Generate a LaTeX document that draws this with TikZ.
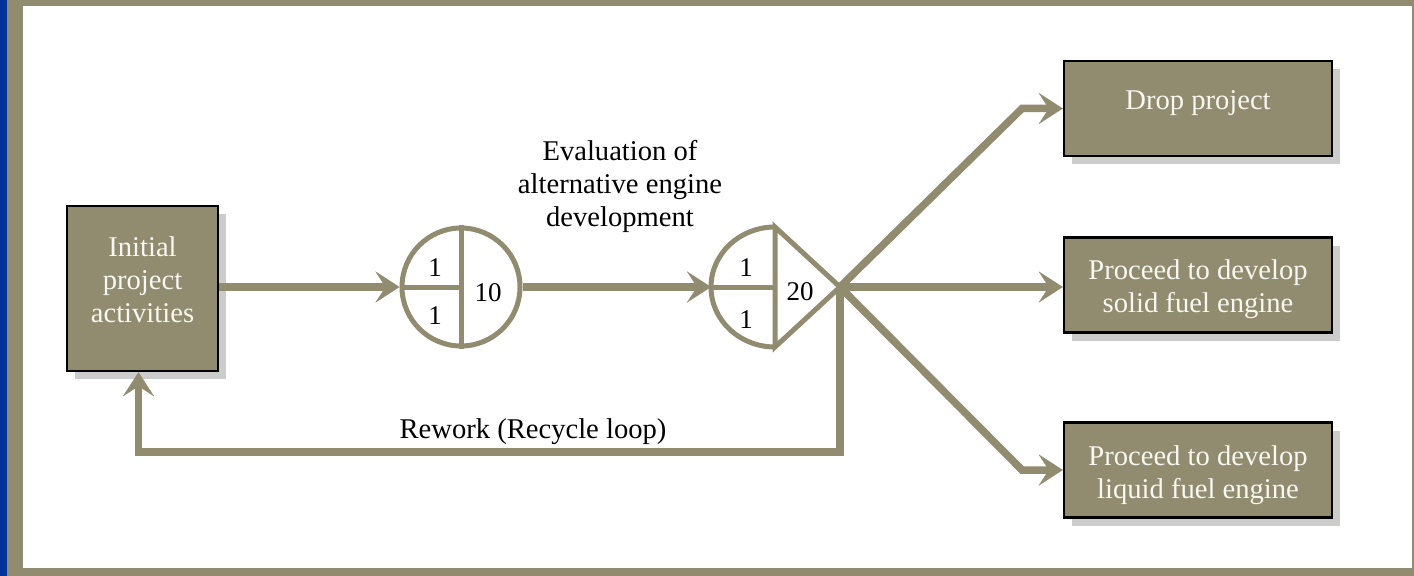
\documentclass[tikz,border=0pt]{standalone}
\usepackage{fontspec}
\setmainfont{Liberation Serif}
\usetikzlibrary{arrows.meta,shadows}
\definecolor{olivegrey}{RGB}{145,139,112}
\definecolor{frameblue}{RGB}{0,51,153}
\definecolor{shadowgrey}{RGB}{204,204,204}
\definecolor{boxtext}{RGB}{248,248,240}
\tikzset{
  txt/.style={font=\fontsize{28.6bp}{33bp}\selectfont, align=center, inner sep=0pt},
  stagebox/.style={draw=black, line width=2.5bp, fill=olivegrey, text=boxtext,
    font=\fontsize{28.6bp}{33bp}\selectfont, align=center, inner sep=0pt,
    general shadow={fill=shadowgrey, shadow xshift=8bp, shadow yshift=-8bp}},
  flow/.style={draw=olivegrey, line width=7.5bp,
    -{Stealth[length=24bp,width=31bp,inset=10bp,line width=0.1bp]}},
  gate/.style={draw=olivegrey, line width=5bp},
  num/.style={font=\fontsize{27bp}{30bp}\selectfont, inner sep=0pt}
}
\begin{document}
\begin{tikzpicture}[x=1bp,y=-1bp]
  % frame
  \useasboundingbox (0,0) rectangle (1414,576);
  \fill[olivegrey] (0,0) rectangle (1414,576);
  \fill[frameblue] (0,0) rectangle (7,576);
  \fill[white] (23,6) rectangle (1412,568);

  % boxes
  \node[stagebox, minimum width=151bp, minimum height=165bp] (init) at (142.5,288.5) {};
  \node[txt, text=boxtext] (inittxt) at (142.5,280) {Initial\\project\\activities};
  \node[stagebox, minimum width=268bp, minimum height=95bp] (drop) at (1198,108.5) {};
  \node[txt, text=boxtext] (droptxt) at (1198,103) {Drop project};
  \node[stagebox, minimum width=268bp, minimum height=95bp] (solid) at (1198,285) {};
  \node[txt, text=boxtext] (solidtxt) at (1198,289) {Proceed to develop\\solid fuel engine};
  \node[stagebox, minimum width=268bp, minimum height=95bp] (liquid) at (1198,470) {};
  \node[txt, text=boxtext] (liquidtxt) at (1198,475) {Proceed to develop\\liquid fuel engine};

  % first activity circle
  \node[circle, gate, minimum size=118bp, inner sep=0pt] (c1) at (461,287) {};
  \draw[gate] (c1.north) -- (c1.south);
  \draw[gate] (c1.west) -- (c1.center);
  \node[num] (c1a) at (435,268) {1};
  \node[num] (c1b) at (435,316) {1};
  \node[num] (c1c) at (488,293) {10};

  % decision node: half ellipse + triangle
  \coordinate (d) at (775,287);
  \coordinate (dtop) at (775,227);
  \coordinate (dbot) at (775,347);
  \coordinate (dw) at (711,287);
  \coordinate (apex) at (840,287);
  \draw[gate] (dtop) arc[start angle=90, end angle=270, x radius=64bp, y radius=60bp];
  \draw[gate, line join=miter] (dtop) -- (apex) -- (dbot) -- cycle;
  \draw[gate] (dw) -- (d);
  \node[num] (d1a) at (746,268) {1};
  \node[num] (d1b) at (746,320) {1};
  \node[num] (d1c) at (800,292) {20};

  % labels
  \node[txt] (evallbl) at (620,186) {Evaluation of\\alternative engine\\development};
  \node[txt] (reworklbl) at (533,432) {Rework (Recycle loop)};

  % connectors
  \draw[flow] (init.east |- c1.west) -- (c1.west);
  \draw[flow] (c1.east) -- (dw);
  \coordinate (bup) at (1022,108.5);
  \coordinate (bdn) at (1022,470);
  \coordinate (bloop) at (840,452);
  \draw[flow] (apex) -- (bup) -- (drop.west);
  \draw[flow] (apex) -- (apex -| solid.west);
  \draw[flow] (apex) -- (bdn) -- (liquid.west);
  \draw[flow] (apex) -- (bloop) -| ([xshift=-4bp]init.south);
\end{tikzpicture}
\end{document}
